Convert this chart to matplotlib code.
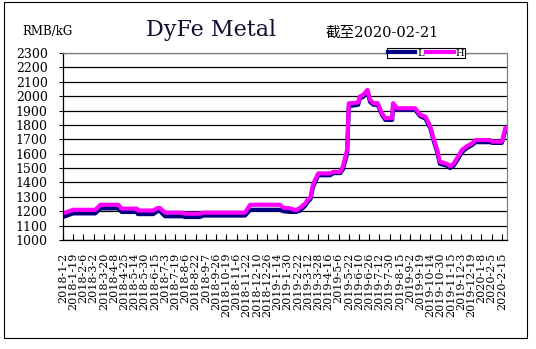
import matplotlib
matplotlib.use("Agg")
import matplotlib.pyplot as plt
from matplotlib.patches import Rectangle

# trading day index (one tick label every 12 days)
days = [0, 12, 38, 44, 65, 69, 87, 88, 106, 111, 114, 120, 141, 143, 161, 165,
        214, 220, 255, 259, 267, 274, 279, 285, 287, 291, 294, 300, 314, 318,
        326, 329, 334, 336, 347, 349, 353, 358, 361, 365, 370, 375, 379, 387,
        388, 393, 414, 420, 426, 432, 435, 440, 443, 452, 455, 459, 463, 469,
        475, 481, 485, 502, 505, 516, 520]

high = [1185, 1210, 1210, 1245, 1245, 1218, 1218, 1205, 1205, 1222, 1222, 1190,
        1190, 1183, 1183, 1190, 1190, 1245, 1245, 1225, 1220, 1207, 1225, 1255,
        1275, 1300, 1390, 1463, 1463, 1474, 1474, 1510, 1626, 1950, 1956, 1998,
        2009, 2044, 1974, 1951, 1951, 1881, 1847, 1847, 1951, 1916, 1916, 1870,
        1858, 1788, 1719, 1626, 1544, 1528, 1514, 1528, 1567, 1626, 1653, 1672,
        1695, 1695, 1684, 1684, 1777]

low = [1160, 1185, 1185, 1220, 1220, 1195, 1195, 1180, 1180, 1200, 1200, 1165,
       1165, 1160, 1160, 1170, 1170, 1210, 1210, 1200, 1195, 1195, 1205, 1240,
       1260, 1285, 1370, 1450, 1450, 1465, 1465, 1490, 1600, 1930, 1940, 1985,
       1995, 2030, 1960, 1940, 1940, 1870, 1835, 1835, 1935, 1905, 1905, 1860,
       1845, 1775, 1705, 1610, 1530, 1515, 1500, 1515, 1550, 1610, 1640, 1660,
       1680, 1680, 1675, 1675, 1760]

date_labels = ["2018-1-2", "2018-1-19", "2018-2-6", "2018-3-2", "2018-3-20",
               "2018-4-8", "2018-4-25", "2018-5-14", "2018-5-30", "2018-6-15",
               "2018-7-3", "2018-7-19", "2018-8-6", "2018-8-22", "2018-9-7",
               "2018-9-26", "2018-10-19", "2018-11-6", "2018-11-22", "2018-12-10",
               "2018-12-26", "2019-1-14", "2019-1-30", "2019-2-22", "2019-3-12",
               "2019-3-28", "2019-4-16", "2019-5-6", "2019-5-22", "2019-6-10",
               "2019-6-26", "2019-7-12", "2019-7-30", "2019-8-15", "2019-9-2",
               "2019-9-19", "2019-10-14", "2019-10-30", "2019-11-15", "2019-12-3",
               "2019-12-19", "2020-1-8", "2020-2-5", "2020-2-15"]
label_step = 12

fig = plt.figure(figsize=(5.36, 3.49), dpi=100)
fig.add_artist(Rectangle((4/536, 1-338/349), 523/536, 336/349, transform=fig.transFigure,
                         fill=False, edgecolor='black', lw=0.8))

ax = fig.add_axes([63/536, 1-240/349, 444/536, 187/349])

ax.plot(days, low, color='#000080', lw=3, label='L', solid_joinstyle='round')
ax.plot(days, high, color='#ff00ff', lw=3, label='H', solid_joinstyle='round')

ax.set_ylim(1000, 2300)
ax.set_yticks(range(1000, 2301, 100))
ax.set_xlim(0, 522)
ax.set_xticks([i*label_step for i in range(len(date_labels))])
ax.set_xticklabels(date_labels, rotation=90, family='DejaVu Serif', fontsize=8)
for t in ax.get_yticklabels():
    t.set_family('DejaVu Serif')
    t.set_fontsize(9)

ax.grid(axis='y', color='black', lw=0.9)
ax.set_axisbelow(True)
ax.tick_params(axis='x', direction='in', length=4, width=0.8, pad=9)
ax.tick_params(axis='y', direction='out', length=3, width=0.8, pad=8)
ax.spines['top'].set_color('#808080')
ax.spines['right'].set_color('#808080')
for s in ax.spines.values():
    s.set_linewidth(0.9)

fig.text(211/536, 1-30/349, 'DyFe Metal', family='DejaVu Serif', fontsize=16,
         ha='center', va='center', color='#101030')
fig.text(22/536, 1-32/349, 'RMB/kG', family='DejaVu Serif', fontsize=8.5,
         ha='left', va='center')
fig.text(325/536, 1-33/349, '截至2020-02-21', family=['DejaVu Serif', 'Noto Sans CJK SC'],
         fontsize=10.5, ha='left', va='center')

leg = fig.legend(loc='center', bbox_to_anchor=(426/536, 1-53/349), ncol=2,
                 prop={'family': 'DejaVu Serif', 'size': 7},
                 frameon=True, fancybox=False, edgecolor='black', framealpha=1,
                 handlelength=2.8, handletextpad=0.2, columnspacing=0.3,
                 borderpad=0.1, borderaxespad=0)
leg.get_frame().set_linewidth(0.8)

fig.savefig('out.png', dpi=100)
